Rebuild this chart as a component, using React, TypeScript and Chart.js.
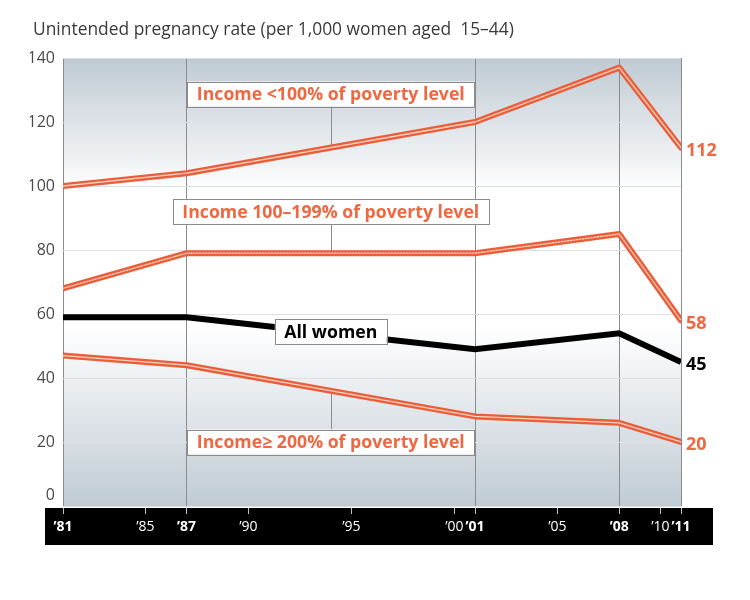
import React, { useEffect, useRef } from 'react';
import { Chart, registerables } from 'chart.js';

Chart.register(...registerables);

// ---- data ----
const surveyYears = [1981, 1987, 2001, 2008, 2011];
const incomeBelow100 = [100, 104, 120, 137, 112];
const income100to199 = [68, 79, 79, 85, 58];
const allWomen = [59, 59, 49, 54, 45];
const income200plus = [47, 44, 28, 26, 20];

const seriesLabels = [
  'Income <100% of poverty level',
  'Income 100–199% of poverty level',
  'All women',
  'Income\u2265 200% of poverty level',
];
const labelYear = 1994;
const labelBoxValues = [128.75, 92, 54.5, 20];

const xTickYears = [1981, 1985, 1987, 1990, 1995, 2000, 2001, 2005, 2008, 2010, 2011];
const boldTickYears = [1981, 1987, 2001, 2008, 2011];
const yMin = 0;
const yMax = 140;
const yStep = 20;
const titleText = 'Unintended pregnancy rate (per 1,000 women aged  15–44)';

// ---- styles ----
const ORANGE = '#ea5e39';
const ORANGE_TEXT = '#ee6842';
const CENTER = '#fbd3c4';
const SANS = "'Open Sans', 'DejaVu Sans', sans-serif";

const allSeries = [incomeBelow100, income100to199, allWomen, income200plus];
const seriesIsOrange = [true, true, false, true];
const seriesDotted = [false, true, false, false];

const toPoints = (vals: number[]) => surveyYears.map((x, i) => ({ x, y: vals[i] }));

function valueAt(vals: number[], year: number) {
  for (let i = 0; i < surveyYears.length - 1; i++) {
    const a = surveyYears[i], b = surveyYears[i + 1];
    if (year >= a && year <= b) {
      return vals[i] + ((vals[i + 1] - vals[i]) * (year - a)) / (b - a);
    }
  }
  return vals[vals.length - 1];
}

function boxFontSize(ctx: CanvasRenderingContext2D) {
  ctx.font = `bold 17px ${SANS}`;
  const w = ctx.measureText(seriesLabels[0]).width;
  return (17 * 268) / w;
}

function getBoxes(chart: any) {
  const { ctx, scales } = chart;
  const size = boxFontSize(ctx);
  ctx.font = `bold ${size}px ${SANS}`;
  const cx = scales.x.getPixelForValue(labelYear);
  return seriesLabels.map((t, i) => {
    const tw = ctx.measureText(t).width;
    const w = tw + 19;
    const h = 25;
    const cy = scales.y.getPixelForValue(labelBoxValues[i]);
    return { x: cx - w / 2, y: cy - h / 2, w, h, cx, cy, text: t, size };
  });
}

const decorPlugin = {
  id: 'decor',
  beforeDraw(chart: any) {
    const { ctx, chartArea: a } = chart;
    ctx.save();
    ctx.fillStyle = '#ffffff';
    ctx.fillRect(0, 0, chart.width, chart.height);
    const g = ctx.createLinearGradient(0, a.top, 0, a.bottom);
    g.addColorStop(0, '#bfcad3');
    g.addColorStop(0.3, '#ffffff');
    g.addColorStop(0.6, '#ffffff');
    g.addColorStop(1, '#c0cbd4');
    ctx.fillStyle = g;
    ctx.fillRect(a.left, a.top, a.right - a.left, a.bottom - a.top);
    // black axis band
    ctx.fillStyle = '#000000';
    ctx.fillRect(a.left - 18, a.bottom + 2, a.right - a.left + 50, 37);
    // title
    ctx.font = `16px ${SANS}`;
    const tw = ctx.measureText(titleText).width;
    const fs = (16 * 481) / tw;
    ctx.font = `${fs}px ${SANS}`;
    ctx.fillStyle = '#3a3a3a';
    ctx.textAlign = 'left';
    ctx.textBaseline = 'middle';
    ctx.fillText(titleText, 33, 30);
    // y "0" label, raised above the band
    ctx.font = `16px ${SANS}`;
    ctx.fillStyle = '#4a4a4a';
    ctx.textAlign = 'right';
    ctx.fillText(String(yMin), a.left - 8, chart.scales.y.getPixelForValue(yMin) - 11);
    ctx.restore();
  },
  beforeDatasetsDraw(chart: any) {
    const { ctx, scales } = chart;
    const boxes = getBoxes(chart);
    ctx.save();
    ctx.strokeStyle = '#8c8c8c';
    ctx.lineWidth = 1;
    boxes.forEach((b, i) => {
      if (!seriesIsOrange[i]) return;
      const ly = scales.y.getPixelForValue(valueAt(allSeries[i], labelYear));
      const x = Math.round(b.cx) + 0.5;
      ctx.beginPath();
      if (ly > b.y + b.h) {
        ctx.moveTo(x, b.y + b.h);
        ctx.lineTo(x, ly);
      } else {
        ctx.moveTo(x, ly);
        ctx.lineTo(x, b.y);
      }
      ctx.stroke();
    });
    ctx.restore();
  },
  afterDatasetsDraw(chart: any) {
    const { ctx, scales, chartArea: a } = chart;
    const boxes = getBoxes(chart);
    ctx.save();
    boxes.forEach((b, i) => {
      ctx.fillStyle = '#ffffff';
      ctx.fillRect(b.x, b.y, b.w, b.h);
      ctx.strokeStyle = '#8a8a8a';
      ctx.lineWidth = 1;
      ctx.strokeRect(Math.round(b.x) + 0.5, Math.round(b.y) + 0.5, Math.round(b.w), Math.round(b.h));
      ctx.font = `bold ${b.size}px ${SANS}`;
      ctx.fillStyle = seriesIsOrange[i] ? ORANGE_TEXT : '#000000';
      ctx.textAlign = 'center';
      ctx.textBaseline = 'middle';
      ctx.fillText(b.text, b.cx, b.cy + 1);
    });
    // end labels
    allSeries.forEach((vals, i) => {
      const v = vals[vals.length - 1];
      const y = scales.y.getPixelForValue(v);
      ctx.font = `bold 18px ${SANS}`;
      ctx.fillStyle = seriesIsOrange[i] ? ORANGE_TEXT : '#000000';
      ctx.textAlign = 'left';
      ctx.textBaseline = 'middle';
      ctx.fillText(String(v), a.right + 5, y + 3);
    });
    ctx.restore();
  },
};

export default function App() {
  const ref = useRef<HTMLCanvasElement | null>(null);
  useEffect(() => {
    if (!ref.current) return;
    const datasets: any[] = [];
    allSeries.forEach((vals, i) => {
      if (seriesIsOrange[i]) {
        datasets.push({
          label: seriesLabels[i],
          data: toPoints(vals),
          borderColor: ORANGE,
          borderWidth: 6,
          pointRadius: 0,
          tension: 0,
          borderCapStyle: 'round',
          borderJoinStyle: 'round',
          order: 10,
        });
        datasets.push({
          label: seriesLabels[i] + ' center',
          data: toPoints(vals),
          borderColor: CENTER,
          borderWidth: 1.3,
          borderDash: seriesDotted[i] ? [1.5, 1.5] : [],
          pointRadius: 0,
          tension: 0,
          borderCapStyle: 'round',
          borderJoinStyle: 'round',
          order: 5,
        });
      } else {
        datasets.push({
          label: seriesLabels[i],
          data: toPoints(vals),
          borderColor: '#000000',
          borderWidth: 6,
          pointRadius: 0,
          tension: 0,
          borderJoinStyle: 'miter',
          order: 1,
        });
      }
    });

    const chart = new Chart(ref.current, {
      type: 'line',
      data: { datasets },
      plugins: [decorPlugin],
      options: {
        animation: false,
        responsive: false,
        devicePixelRatio: 1,
        layout: { padding: { left: 30, right: 69, top: 58, bottom: 55 } },
        plugins: { legend: { display: false }, tooltip: { enabled: false }, title: { display: false } },
        scales: {
          x: {
            type: 'linear',
            min: surveyYears[0],
            max: surveyYears[surveyYears.length - 1],
            afterBuildTicks: (scale: any) => {
              scale.ticks = xTickYears.map((v) => ({ value: v }));
            },
            afterFit: (scale: any) => {
              scale.height = 39;
            },
            border: { display: false },
            grid: {
              drawOnChartArea: true,
              drawTicks: true,
              tickLength: 8,
              color: (c: any) =>
                c.tick && boldTickYears.includes(c.tick.value) ? '#8c8c8c' : 'rgba(0,0,0,0)',
              tickColor: 'rgba(255,255,255,0.75)',
              lineWidth: 1,
            },
            ticks: {
              color: '#ffffff',
              padding: 5,
              maxRotation: 0,
              autoSkip: false,
              callback: (v: any) => '\u2019' + String(v).slice(2),
              font: (c: any) => ({
                family: SANS,
                size: 14,
                weight: c.tick && boldTickYears.includes(c.tick.value) ? 'bold' : 'normal',
              }),
            },
          },
          y: {
            type: 'linear',
            min: yMin,
            max: yMax,
            afterFit: (scale: any) => {
              scale.width = 33;
            },
            border: { display: false },
            grid: { color: '#dde1e5', drawTicks: false, lineWidth: 1 },
            ticks: {
              stepSize: yStep,
              padding: 8,
              color: '#4a4a4a',
              font: { family: SANS, size: 16 },
              callback: (v: any) => (v === yMin ? '' : String(v)),
            },
          },
        },
      },
    });
    return () => chart.destroy();
  }, []);

  return (
    <div style={{ position: 'absolute', left: 0, top: 0, width: 750, height: 600 }}>
      <canvas ref={ref} width={750} height={600} style={{ width: 750, height: 600, display: 'block' }} />
    </div>
  );
}
